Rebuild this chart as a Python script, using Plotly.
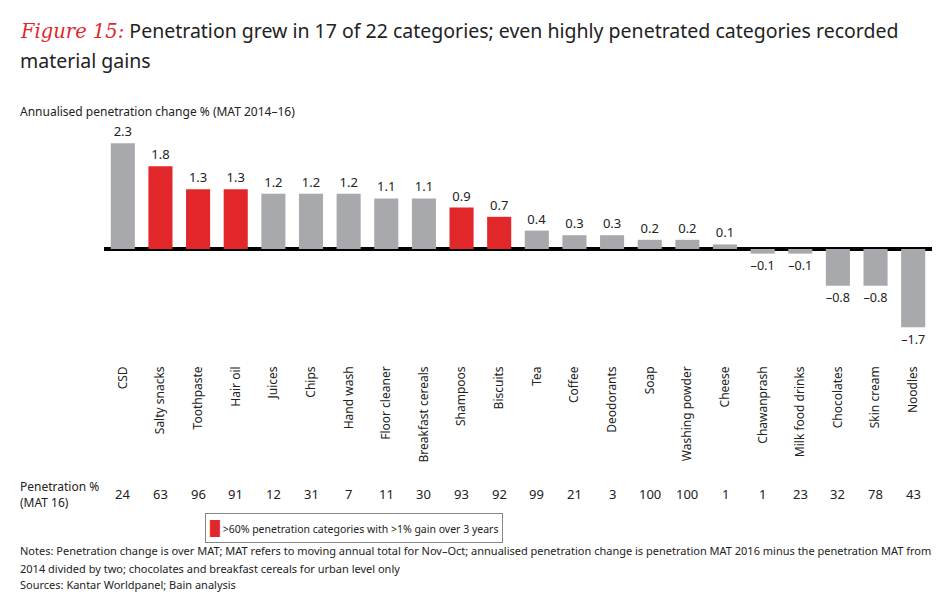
import plotly.graph_objects as go

# categories and values
categories = ["CSD", "Salty snacks", "Toothpaste", "Hair oil", "Juices", "Chips",
              "Hand wash", "Floor cleaner", "Breakfast cereals", "Shampoos", "Biscuits",
              "Tea", "Coffee", "Deodorants", "Soap", "Washing powder", "Cheese",
              "Chawanprash", "Milk food drinks", "Chocolates", "Skin cream", "Noodles"]
change = [2.3, 1.8, 1.3, 1.3, 1.2, 1.2, 1.2, 1.1, 1.1, 0.9, 0.7,
          0.4, 0.3, 0.3, 0.2, 0.2, 0.1, -0.1, -0.1, -0.8, -0.8, -1.7]
penetration = [24, 63, 96, 91, 12, 31, 7, 11, 30, 93, 92,
               99, 21, 3, 100, 100, 1, 1, 23, 32, 78, 43]
highlight = ["Salty snacks", "Toothpaste", "Hair oil", "Shampoos", "Biscuits"]

GREY = "#A7A9AC"
RED = "#E2272B"
FONT = "Noto Sans"
TXT = "#222"

colors = [RED if c in highlight else GREY for c in categories]
labels = [f"{v:.1f}".replace("-", "\u2013") for v in change]

fig = go.Figure()
fig.add_trace(go.Bar(x=categories, y=change, marker_color=colors,
                     marker_line_width=0, width=0.64,
                     text=labels, textposition="outside", cliponaxis=False,
                     textfont=dict(size=13, color=TXT), showlegend=False))

# penetration row below the category labels
for cat, p in zip(categories, penetration):
    fig.add_annotation(x=cat, xref="x", y=-0.618, yref="paper", yanchor="middle",
                       text=str(p), showarrow=False, font=dict(size=13, color=TXT))

def note(y, text, size=11, **kw):
    fig.add_annotation(x=-0.104, y=y, xref="paper", yref="paper",
                       xanchor="left", yanchor="middle", align="left",
                       text=text, showarrow=False,
                       font=dict(size=size, color=TXT, family=FONT), **kw)

# title, axis title, row label, notes
note(1.444, "<i><span style='color:#E2272B;font-family:DejaVu Serif'>Figure 15:</span></i>"
            " Penetration grew in 17 of 22 categories; even highly penetrated categories recorded",
     size=19.5)
note(1.311, "material gains", size=19.5)
note(1.084, "Annualised penetration change % (MAT 2014\u201316)", size=12)
note(-0.618, "Penetration %<br>(MAT 16)", size=12)
note(-0.871, "Notes: Penetration change is over MAT; MAT refers to moving annual total for Nov\u2013Oct; "
             "annualised penetration change is penetration MAT 2016 minus the penetration MAT from")
note(-0.947, "2014 divided by two; chocolates and breakfast cereals for urban level only")
note(-1.022, "Sources: Kantar Worldpanel; Bain analysis")

# legend box
fig.add_annotation(x=0.302, y=-0.769, xref="paper", yref="paper",
                   xanchor="center", yanchor="middle",
                   text="<span style='color:#E2272B;font-size:14px'>\u2588</span> >60% penetration categories with >1% gain over 3 years",
                   showarrow=False, bordercolor="#888", borderwidth=1, borderpad=4,
                   font=dict(size=10.5, color=TXT, family=FONT))

fig.update_layout(
    width=950, height=614,
    margin=dict(l=104, r=18, t=130, b=259),
    plot_bgcolor="white", paper_bgcolor="white",
    font=dict(family=FONT, color=TXT),
)
fig.update_xaxes(tickangle=-90, showline=False, ticks="", showgrid=False,
                 tickfont=dict(size=12, color=TXT), ticklabelstandoff=8)
fig.update_yaxes(range=[-2.304, 2.587], showticklabels=False, showgrid=False,
                 zeroline=True, zerolinecolor="black", zerolinewidth=4)

fig.write_html("out.html", config={"displayModeBar": False},
               post_script="document.body.style.margin='0';")
